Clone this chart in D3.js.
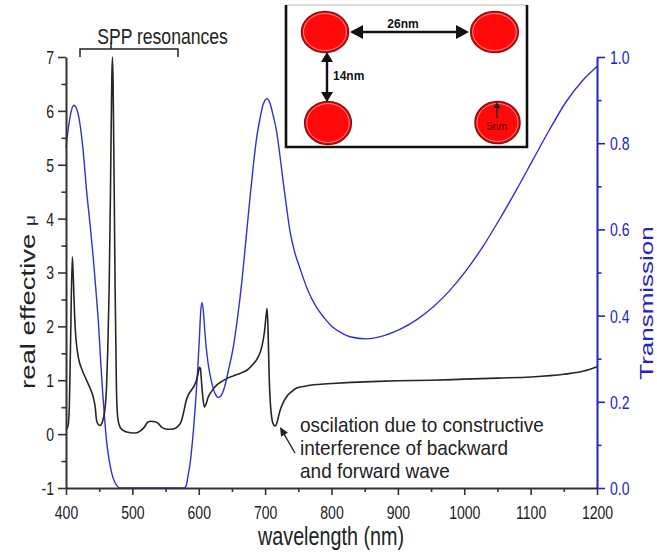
<!DOCTYPE html>
<html><head><meta charset="utf-8">
<script src="https://cdn.jsdelivr.net/npm/d3@7"></script>
<style>body{margin:0;background:#fff} svg{display:block}</style>
</head><body>
<svg id="c" width="657" height="553"></svg>
<script>
// ---- data ----
const muWavelength = [400,403,405,407,409.5,411,413.5,416,418.5,424,431,436,441,444,446,448,451,454,456,459,461,463,465,467,469,470,471,473,474,476,478,481,486,495,505,512,518,523,528,534,539,544,549,556,563,569,574,578,581,584,588,592,596,599,601,602.5,604,606,608.5,611,614,617,622,627,635,642,652,663,673,682,689,695,699,701.5,703,704.5,706,708,710,713,715.5,718,722,727,732,740,747,760,777,800,830,870,900,950,1000,1050,1100,1150,1180,1200];
const muValues     = [0.08,0.15,0.5,1.8,3.29,2.9,2.05,1.65,1.43,1.2,1.0,0.86,0.69,0.5,0.26,0.19,0.16,0.2,0.28,0.5,0.85,1.6,2.7,4.5,6.6,7.0,6.5,4.0,2.7,0.85,0.3,0.14,0.07,0.03,0.02,0.06,0.13,0.22,0.24,0.23,0.2,0.13,0.1,0.09,0.1,0.15,0.25,0.45,0.62,0.72,0.8,0.87,0.98,1.12,1.24,1.22,1.0,0.7,0.5,0.56,0.68,0.75,0.84,0.91,0.98,1.03,1.08,1.13,1.19,1.3,1.42,1.62,1.9,2.2,2.33,1.9,1.1,0.55,0.3,0.17,0.15,0.22,0.42,0.58,0.69,0.79,0.85,0.89,0.92,0.94,0.96,0.98,0.99,1.0,1.02,1.04,1.06,1.11,1.17,1.25];

const trWavelength = [400,404,408,412,416,421,426,431,436,441,445,449,452,455,458,461,465,469,473,477,481,520,578,581,584,587,590,594,597,599,601,603,605,607,609,611,614,618,622,626,629,633,639,645,652,658,665,671,677,682,687,692,697,703,708,712,717,722,727,732,737,744,752,764,777,790,802,815,828,853,878,903,928,953,978,1003,1028,1053,1078,1103,1128,1153,1178,1200];
const trValues     = [0.79,0.84,0.875,0.888,0.88,0.845,0.78,0.69,0.615,0.535,0.46,0.38,0.3,0.227,0.165,0.11,0.065,0.034,0.015,0.005,0.0,0.0,0.0,0.005,0.03,0.057,0.1,0.173,0.24,0.29,0.35,0.41,0.43,0.41,0.366,0.33,0.29,0.255,0.23,0.215,0.21,0.213,0.235,0.275,0.327,0.39,0.48,0.575,0.67,0.745,0.81,0.855,0.89,0.903,0.89,0.865,0.83,0.775,0.713,0.655,0.6,0.55,0.512,0.46,0.42,0.393,0.373,0.36,0.351,0.346,0.353,0.368,0.39,0.42,0.458,0.505,0.56,0.623,0.69,0.76,0.83,0.895,0.945,0.978];

const xTicks = [400,500,600,700,800,900,1000,1100,1200];
const xMinorTicks = [450,550,650,750,850,950,1050,1150];
const yLeftTicks = [-1,0,1,2,3,4,5,6,7];
const yLeftMinor = [-0.5,0.5,1.5,2.5,3.5,4.5,5.5,6.5];
const yRightTicks = [0,0.2,0.4,0.6,0.8,1.0];
const yRightMinor = [0.1,0.3,0.5,0.7,0.9];

const annotationLines = ["oscilation due to constructive","interference of backward","and forward wave"];

// ---- drawing ----
const FONT = "'Liberation Sans', Arial, Helvetica, sans-serif";
const AX = "#333333", BLUE = "#2323c4", CURVE_BLUE = "#3131cf";
const svg = d3.select("#c");
const x = d3.scaleLinear().domain([400,1200]).range([66,597]);
const yL = d3.scaleLinear().domain([-1,7]).range([488,57]);
const yR = d3.scaleLinear().domain([0,1]).range([488,57]);
const SX = 0.78;

// curves
const muData = d3.zip(muWavelength, muValues);
const trData = d3.zip(trWavelength, trValues);
svg.append("path").datum(trData)
  .attr("d", d3.line().x(d=>x(d[0])).y(d=>yR(d[1])).curve(d3.curveMonotoneX))
  .attr("fill","none").attr("stroke",CURVE_BLUE).attr("stroke-width",1.4);
svg.append("path").datum(muData)
  .attr("d", d3.line().x(d=>x(d[0])).y(d=>yL(d[1])).curve(d3.curveMonotoneX))
  .attr("fill","none").attr("stroke","#262626").attr("stroke-width",1.6);

// axes
function styleAxis(g, color){
  g.select(".domain").attr("stroke",color).attr("stroke-width",2);
  g.selectAll(".tick line").attr("stroke",color).attr("stroke-width",1.6);
}
// bottom
const gxm = svg.append("g").attr("transform","translate(0,488)")
  .call(d3.axisBottom(x).tickValues(xMinorTicks).tickSize(4).tickFormat(()=>""));
gxm.select(".domain").remove(); gxm.selectAll(".tick line").attr("stroke",AX).attr("stroke-width",1.6);
const gx = svg.append("g").attr("transform","translate(0,488)")
  .call(d3.axisBottom(x).tickValues(xTicks).tickSize(7).tickSizeOuter(0).tickFormat(d=>String(d)));
styleAxis(gx, AX);
gx.selectAll(".tick text").attr("y",31).attr("dy",null).attr("font-size",18)
  .attr("font-family",FONT).attr("fill","#222").attr("transform",`scale(${SX},1)`);

// left
const gym = svg.append("g").attr("transform","translate(66,0)")
  .call(d3.axisLeft(yL).tickValues(yLeftMinor).tickSize(4.5).tickFormat(()=>""));
gym.select(".domain").remove(); gym.selectAll(".tick line").attr("stroke",AX).attr("stroke-width",1.6);
const gy = svg.append("g").attr("transform","translate(66,0)")
  .call(d3.axisLeft(yL).tickValues(yLeftTicks).tickSize(8).tickSizeOuter(0).tickFormat(d=>String(d)));
styleAxis(gy, AX);
gy.selectAll(".tick text").attr("x",-12/SX).attr("dy","0.36em").attr("font-size",18)
  .attr("font-family",FONT).attr("fill","#222").attr("transform",`scale(${SX},1)`);

// right
const grm = svg.append("g").attr("transform","translate(597,0)")
  .call(d3.axisRight(yR).tickValues(yRightMinor).tickSize(4.5).tickFormat(()=>""));
grm.select(".domain").remove(); grm.selectAll(".tick line").attr("stroke",BLUE).attr("stroke-width",1.6);
const gr = svg.append("g").attr("transform","translate(597,0)")
  .call(d3.axisRight(yR).tickValues(yRightTicks).tickSize(8).tickSizeOuter(0).tickFormat(d3.format(".1f")));
styleAxis(gr, BLUE);
gr.selectAll(".tick text").attr("x",13/SX).attr("dy","0.36em").attr("font-size",18)
  .attr("font-family",FONT).attr("fill",BLUE).attr("transform",`scale(${SX},1)`);

// axis titles
svg.append("text").attr("transform","translate(331,545) scale(0.76,1)")
  .attr("text-anchor","middle").attr("font-family",FONT).attr("font-size",26).attr("fill","#222")
  .text("wavelength (nm)");
const yt = svg.append("text").attr("transform","translate(35,302) scale(0.74,1) rotate(-90)")
  .attr("text-anchor","middle").attr("font-family",FONT).attr("font-size",27.5).attr("fill","#222");
yt.append("tspan").text("real effective ");
yt.append("tspan").attr("font-size",19).text("μ");
svg.append("text").attr("transform","translate(653,303) scale(0.72,1) rotate(-90)")
  .attr("text-anchor","middle").attr("font-family",FONT).attr("font-size",26).attr("fill",BLUE)
  .text("Transmission");

// SPP bracket
svg.append("path").attr("d","M80,57V49H178V57M111,49V42")
  .attr("fill","none").attr("stroke","#222").attr("stroke-width",1.5);
svg.append("text").attr("transform","translate(162.5,44) scale(0.8,1)")
  .attr("text-anchor","middle").attr("font-family",FONT).attr("font-size",22).attr("fill","#222")
  .text("SPP resonances");

// annotation
function head(tx,ty,dx,dy,len,half){
  const n=Math.hypot(dx,dy); dx/=n; dy/=n;
  const bx=tx-dx*len, by=ty-dy*len;
  return `M${tx},${ty}L${bx-dy*half},${by+dx*half}L${bx+dy*half},${by-dx*half}Z`;
}
svg.append("line").attr("x1",295).attr("y1",453).attr("x2",284).attr("y2",434)
  .attr("stroke","#222").attr("stroke-width",1.4);
svg.append("path").attr("d",head(280,427,-15,-26,9,4)).attr("fill","#222");
const at = svg.append("text").attr("transform","translate(300,0) scale(0.95,1)")
  .attr("font-family",FONT).attr("font-size",20).attr("fill","#222");
annotationLines.forEach((t,i)=>at.append("tspan").attr("x",0).attr("y",432+i*23).text(t));

// inset
const ins = svg.append("g");
ins.append("rect").attr("x",286).attr("y",5).attr("width",241).attr("height",142).attr("fill","#fff");
ins.append("line").attr("x1",286).attr("y1",5).attr("x2",527).attr("y2",5).attr("stroke","#bbb").attr("stroke-width",1);
ins.append("path").attr("d","M286,5V147H527V5").attr("fill","none").attr("stroke","#111").attr("stroke-width",2.6);
const circles = [[325,32,23.5,20.5],[494.5,32,23.8,20.5],[328,123,23.3,21.5],[497.5,122.5,22.5,21]];
circles.forEach(c=>{
  ins.append("ellipse").attr("cx",c[0]).attr("cy",c[1]).attr("rx",c[2]).attr("ry",c[3])
    .attr("fill","#ff0a0a").attr("stroke","#8a1010").attr("stroke-width",1.6);
  ins.append("ellipse").attr("cx",c[0]).attr("cy",c[1]).attr("rx",c[2]-2).attr("ry",c[3]-2)
    .attr("fill","none").attr("stroke","#ff9a9a").attr("stroke-width",0.8);
});
ins.append("line").attr("x1",360).attr("y1",32).attr("x2",459).attr("y2",32).attr("stroke","#111").attr("stroke-width",2.6);
ins.append("path").attr("d",head(350,32,-1,0,13,7)+head(469,32,1,0,13,7)).attr("fill","#111");
ins.append("line").attr("x1",327).attr("y1",60).attr("x2",327).attr("y2",94).attr("stroke","#111").attr("stroke-width",2.4);
ins.append("path").attr("d",head(327,52,0,-1,10,6)+head(327,102,0,1,10,6)).attr("fill","#111");
ins.append("line").attr("x1",497).attr("y1",118).attr("x2",497).attr("y2",106).attr("stroke","#222").attr("stroke-width",1.3);
ins.append("path").attr("d",head(497,102,0,-1,6,3.5)).attr("fill","#222");
ins.append("text").attr("x",403).attr("y",28).attr("text-anchor","middle").attr("font-family",FONT)
  .attr("font-weight","bold").attr("font-size",12).attr("fill","#111").text("26nm");
ins.append("text").attr("x",333).attr("y",80).attr("font-family",FONT)
  .attr("font-weight","bold").attr("font-size",12).attr("fill","#111").text("14nm");
ins.append("text").attr("x",497).attr("y",130).attr("text-anchor","middle").attr("font-family",FONT)
  .attr("font-size",10.5).attr("fill","#5a0000").text("5nm");
</script>
</body></html>
